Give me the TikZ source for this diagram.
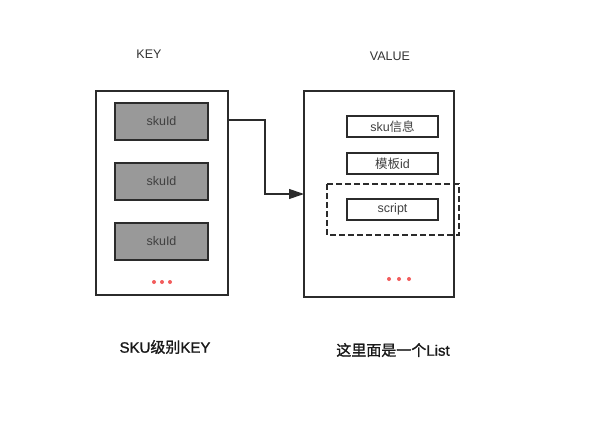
\documentclass[tikz,border=0pt]{standalone}
\usepackage{fontspec}
\setmainfont{Liberation Sans}
\newfontfamily\cjk{Noto Sans CJK SC}
\newfontfamily\cjkbold[FakeBold=1.2]{Noto Sans CJK SC}
\newfontfamily\capfont[FakeBold=1.2]{Liberation Sans}
\usetikzlibrary{positioning}
\usetikzlibrary{arrows.meta}
\definecolor{linegray}{HTML}{2B2B2B}
\definecolor{keyfill}{HTML}{999999}
\definecolor{dotred}{HTML}{F25C5C}
\tikzset{outer/.style={draw=linegray,line width=1.4pt},
         keybox/.style={draw=linegray,line width=1.3pt,fill=keyfill,minimum width=93pt,minimum height=37pt,font=\fontsize{12.5}{14}\selectfont,text=black!75},
         valbox/.style={draw=linegray,line width=1.3pt,minimum width=91pt,minimum height=21pt,font=\fontsize{12.5}{14}\selectfont,text=black!75},
         title/.style={font=\fontsize{12.5}{14}\selectfont,text=black!80},
         caption/.style={font=\fontsize{15}{17}\capfont,text=black!90},
         dot/.style={circle,fill=dotred,inner sep=0pt,minimum size=4pt},
         }
\begin{document}
\begin{tikzpicture}[x=1pt,y=-1pt]
\useasboundingbox (0,0) rectangle (591,428);
% key side
\node[title] (keytitle) at (149,54) {KEY};
\draw[outer] (96,91) rectangle (228,295);
\node[keybox] (sku1) at (161.5,121.5) {skuId};
\node[keybox] (sku2) at (161.5,181.5) {skuId};
\node[keybox] (sku3) at (161.5,241.5) {skuId};
\foreach \dx in {-8,0,8}
  \node[dot] at (162+\dx,282) {};
\node[caption] (keycap) at (165,347) {SKU{\cjkbold 级别}KEY};
% value side
\node[title] (valtitle) at (390,56) {VALUE};
\draw[outer] (304,91) rectangle (454,297);
\node[valbox] (info) at (392.5,126.5) {sku{\cjk 信息}};
\node[valbox] (tpl) at (392.5,163.5) {{\cjk 模板}id};
\draw[outer,line width=1.3pt,dash pattern=on 6pt off 3pt] (327,184) rectangle (459,235);
\node[valbox] (script) at (392.5,209.5) {script};
\foreach \dx in {-10,0,10}
  \node[dot] at (399+\dx,279) {};
\node[caption] (valcap) at (393,350) {{\cjkbold 这里面是一个}List};
% connector
\coordinate (from) at (228,120);
\coordinate (to) at (304,194);
\draw[linegray,line width=1.2pt,-{Triangle[length=15pt,width=10pt]}] (from) -- (265,120) -- (265,194) -- (to);
\end{tikzpicture}
\end{document}
